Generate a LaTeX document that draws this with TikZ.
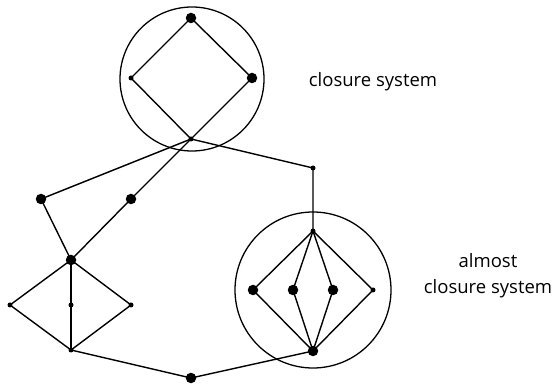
\documentclass[tikz,border=0pt]{standalone}
\usepackage{fontspec}
\setmainfont{Open Sans}
\begin{document}
\begin{tikzpicture}[x=1pt,y=-1pt,
  big/.style={circle,fill=black,inner sep=0pt,minimum size=10.5pt},
  small/.style={circle,fill=black,inner sep=0pt,minimum size=5pt},
  edge/.style={line width=1.4pt},
  ring/.style={line width=1.3pt},
  lbl/.style={font=\fontsize{18.5}{22}\selectfont,anchor=base,inner sep=0pt}]
\useasboundingbox (0,0) rectangle (557,387);
% enclosing circles
\draw[ring] (192,79) circle (72);
\draw[ring] (313,290) circle (78);
% upper diamond
\node[big] (t1) at (191,18) {};
\node[small] (t2) at (131,78) {};
\node[big] (t3) at (252,78) {};
\node[small] (t4) at (191,139) {};
% middle part
\node[small] (r1) at (313,168) {};
\node[big] (m1) at (41,199) {};
\node[big] (m2) at (131,199) {};
\node[big] (m3) at (71,260) {};
% lower left diamond
\node[small] (d1) at (10,305) {};
\node[small] (d2) at (71,305) {};
\node[small] (d3) at (131,305) {};
\node[small] (d4) at (71,350) {};
\node[big] (b) at (191,378) {};
% right structure
\node[small] (a0) at (313,231) {};
\node[big] (a1) at (253,290) {};
\node[big] (a2) at (293,290) {};
\node[big] (a3) at (333,290) {};
\node[small] (a4) at (373,290) {};
\node[big] (a5) at (313,351) {};
% edges
\draw[edge] (t1.center) -- (t2.center) -- (t4.center) -- (t3.center) -- (t1.center);
\draw[edge] (t4.center) -- (r1.center) -- (a0.center);
\draw[edge] (t4.center) -- (m1.center) -- (m3.center);
\draw[edge] (t4.center) -- (m2.center) -- (m3.center);
\draw[edge] (m3.center) -- (d1.center) -- (d4.center);
\draw[edge] (m3.center) -- (d2.center) -- (d4.center);
\draw[edge] (m3.center) -- (d3.center) -- (d4.center);
\draw[edge] (d4.center) -- (b.center) -- (a5.center);
\foreach \n in {a1,a2,a3,a4}{\draw[edge] (a0.center) -- (\n.center) -- (a5.center);}
% labels
\node[lbl] (l1) at (373,87) {closure system};
\node[lbl] (l2) at (488,268) {almost};
\node[lbl] (l3) at (488,294) {closure system};
\end{tikzpicture}
\end{document}
